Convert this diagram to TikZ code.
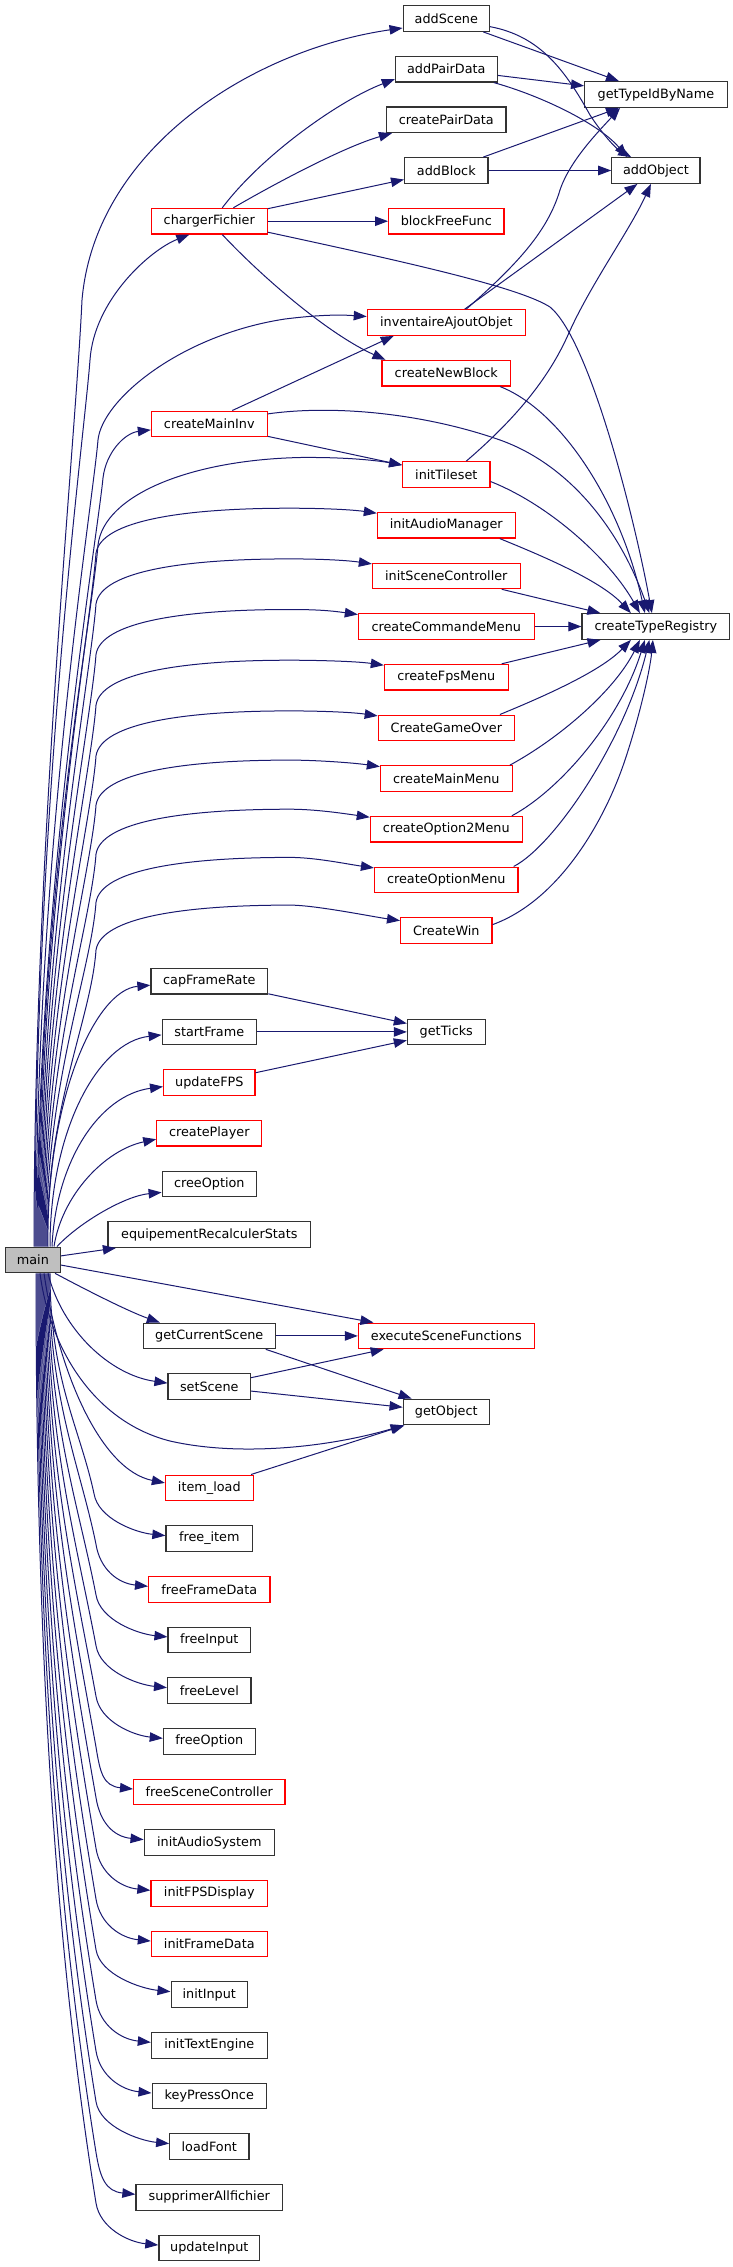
\documentclass[tikz,border=0pt]{standalone}
\usepackage{fontspec}
\newfontfamily\dejavufont{DejaVu Sans}
\usetikzlibrary{arrows.meta,calc}
\definecolor{edgeblue}{HTML}{191970}
\definecolor{maingray}{HTML}{BFBFBF}
\tikzset{
  box/.style={draw=black!80, fill=white, line width=1.2pt, minimum height=25.6pt, inner sep=0pt,
    font=\dejavufont\fontsize{12.8}{15}\selectfont},
  rbox/.style={box, draw=red},
  e/.style={draw=edgeblue, line width=1pt, -{Triangle[length=13pt,width=9.5pt]}},
}
% main -> rank-2 node above main: #1 node, #2 y, #3 start x, #4 apex dy, #5 tip dy
\newcommand\mainToTwo[5]{%
  \draw[e] ($(main.north)+({#3-32.9},0)$) .. controls (#3,{1247-0.45*(1247-#2)}) and (91,{#2+(#4)+115}) .. (96,{#2+(#4)+45})
    .. controls (101,{#2+(#4)+12}) and (185,{#2+(#4)}) .. (290,{#2+(#4)})
    .. controls (315,{#2+(#4)}) and ($(#1.west)+(-28,{#5-4})$) .. ($(#1.west)+(0,#5)$);}
% main -> rank-1 node below main: #1 node, #2 y, #3 start x, #4 bend x
\newcommand\mainToOneDown[4]{%
  \draw[e] ($(main.south)+({#3-32.9},0)$) .. controls (#3,{1273+0.4*(#2-1273)}) and ({#4-5-0.035*(#2-1273)},{#2-45-0.25*(#2-1273)}) .. (#4,{#2-45})
    .. controls ({#4+4},{#2-20}) and ($(#1.west)+(-30,-6)$) .. ($(#1.west)+(0,-3)$);}
\begin{document}
\begin{tikzpicture}[x=1pt,y=-1pt]
\useasboundingbox (0,0) rectangle (732,2267);
\fill[white] (0,0) rectangle (732,2267);

% rank 0
\node[box, fill=maingray, minimum width=55.3pt] (main) at (32.9,1259.9) {main};

% rank 1
\node[rbox, minimum width=115.8pt] (chargerFichier) at (209.3,221.2) {chargerFichier};
\node[rbox, minimum width=115.8pt] (createMainInv) at (209.3,423.9) {createMainInv};
\node[box, minimum width=116.7pt] (capFrameRate) at (209.3,981.2) {capFrameRate};
\node[box, minimum width=94.2pt] (startFrame) at (209.3,1031.9) {startFrame};
\node[rbox, minimum width=91.4pt] (updateFPS) at (209.3,1082.6) {updateFPS};
\node[rbox, minimum width=105pt] (createPlayer) at (209.3,1133.2) {createPlayer};
\node[box, minimum width=94.2pt] (creeOption) at (209.3,1183.9) {creeOption};
\node[box, minimum width=202.5pt] (equip) at (209.3,1234.6) {equipementRecalculerStats};
\node[box, minimum width=131.7pt] (getCurrentScene) at (209.3,1335.9) {getCurrentScene};
\node[box, minimum width=82.5pt] (setScene) at (209.3,1386.6) {setScene};
\node[rbox, minimum width=87.7pt] (itemload) at (209.3,1487.9) {item\_load};
\node[box, minimum width=86.7pt] (freeitem) at (209.3,1538.6) {free\_item};
\node[rbox, minimum width=121.4pt] (freeFrameData) at (209.3,1589.3) {freeFrameData};
\node[box, minimum width=82.5pt] (freeInput) at (209.3,1639.9) {freeInput};
\node[box, minimum width=83.4pt] (freeLevel) at (209.3,1690.6) {freeLevel};
\node[box, minimum width=91.9pt] (freeOption) at (209.3,1741.3) {freeOption};
\node[rbox, minimum width=151.4pt] (freeSceneController) at (209.3,1792) {freeSceneController};
\node[box, minimum width=130.3pt] (initAudioSystem) at (209.3,1842.6) {initAudioSystem};
\node[rbox, minimum width=116.7pt] (initFPSDisplay) at (209.3,1893.3) {initFPSDisplay};
\node[rbox, minimum width=115.8pt] (initFrameData) at (209.3,1944) {initFrameData};
\node[box, minimum width=76.4pt] (initInput) at (209.3,1994.6) {initInput};
\node[box, minimum width=115.8pt] (initTextEngine) at (209.3,2045.3) {initTextEngine};
\node[box, minimum width=114.4pt] (keyPressOnce) at (209.3,2096) {keyPressOnce};
\node[box, minimum width=79.2pt] (loadFont) at (209.3,2146.6) {loadFont};
\node[box, minimum width=146.7pt] (supprimerAllfichier) at (209.3,2197.3) {supprimerAllfichier};
\node[box, minimum width=100.8pt] (updateInput) at (209.3,2248) {updateInput};

% rank 2
\node[box, minimum width=86.3pt] (addScene) at (446.3,18.5) {addScene};
\node[box, minimum width=101.8pt] (addPairData) at (446.3,69.2) {addPairData};
\node[box, minimum width=119.5pt] (createPairData) at (446.3,119.8) {createPairData};
\node[box, minimum width=83.4pt] (addBlock) at (446.3,170.5) {addBlock};
\node[rbox, minimum width=115.3pt] (blockFreeFunc) at (446.3,221.2) {blockFreeFunc};
\node[rbox, minimum width=158pt] (inventaireAjoutObjet) at (446.3,322.5) {inventaireAjoutObjet};
\node[rbox, minimum width=128.5pt] (createNewBlock) at (446.3,373.2) {createNewBlock};
\node[rbox, minimum width=87.2pt] (initTileset) at (446.3,474.5) {initTileset};
\node[rbox, minimum width=137.8pt] (initAudioManager) at (446.3,525.2) {initAudioManager};
\node[rbox, minimum width=147.7pt] (initSceneController) at (446.3,575.9) {initSceneController};
\node[rbox, minimum width=175.8pt] (createCommandeMenu) at (446.3,626.5) {createCommandeMenu};
\node[rbox, minimum width=123.8pt] (createFpsMenu) at (446.3,677.2) {createFpsMenu};
\node[rbox, minimum width=136pt] (CreateGameOver) at (446.3,727.9) {CreateGameOver};
\node[rbox, minimum width=131.7pt] (createMainMenu) at (446.3,778.6) {createMainMenu};
\node[rbox, minimum width=151.9pt] (createOption2Menu) at (446.3,829.2) {createOption2Menu};
\node[rbox, minimum width=143.5pt] (createOptionMenu) at (446.3,879.9) {createOptionMenu};
\node[rbox, minimum width=91.4pt] (CreateWin) at (446.3,930.6) {CreateWin};
\node[box, minimum width=77.8pt] (getTicks) at (446.3,1031.9) {getTicks};
\node[rbox, minimum width=175.8pt] (executeSceneFunctions) at (446.3,1335.9) {executeSceneFunctions};
\node[box, minimum width=86.3pt] (getObject) at (446.3,1411.9) {getObject};

% rank 3
\node[box, minimum width=142.5pt] (getTypeIdByName) at (655.9,94.5) {getTypeIdByName};
\node[box, minimum width=88.2pt] (addObject) at (655.9,170.5) {addObject};
\node[box, minimum width=147.7pt] (createTypeRegistry) at (655.9,626.5) {createTypeRegistry};

% ---------- edges from main, upward ----------
\draw[e] ($(main.north)+(1.1,0)$) .. controls (34,850) and (75,450) .. (82,300) .. controls (95,150) and (250,50) .. ($(addScene.west)+(0,9.5)$);
\draw[e] ($(main.north)+(2.1,0)$) .. controls (35,800) and (84,440) .. (90,360) .. controls (94,300) and (150,250) .. ($(chargerFichier.south west)+(38.5,0)$);
\draw[e] ($(main.north)+(3.1,0)$) .. controls (36,850) and (92,510) .. (98,440) .. controls (102,400) and (180,335) .. (285,319) .. controls (325,314) and (345,315) .. ($(inventaireAjoutObjet.west)+(0,-6)$);
\draw[e] ($(main.north)+(4.1,0)$) .. controls (37,900) and (97,540) .. (103,478) .. controls (106,452) and (125,433) .. ($(createMainInv.west)+(0,6)$);
\draw[e] ($(main.north)+(5.1,0)$) .. controls (38,900) and (92,620) .. (98,545) .. controls (104,495) and (190,460) .. (300,457.5) .. controls (350,457) and (380,461) .. ($(initTileset.west)+(0,-9.5)$);
\mainToTwo{initAudioManager}{525.2}{39}{-17}{-12}
\mainToTwo{initSceneController}{575.9}{40}{-17}{-12}
\mainToTwo{createCommandeMenu}{626.5}{41}{-17}{-12}
\mainToTwo{createFpsMenu}{677.2}{42}{-17}{-12}
\mainToTwo{CreateGameOver}{727.9}{43}{-17}{-12}
\mainToTwo{createMainMenu}{778.6}{44}{-18.5}{-12}
\mainToTwo{createOption2Menu}{829.2}{45}{-20}{-12}
\mainToTwo{createOptionMenu}{879.9}{46}{-22.5}{-12}
\mainToTwo{CreateWin}{930.6}{47}{-25.5}{-10}
\draw[e] ($(main.north)+(15.1,0)$) .. controls (46,1100) and (95,990) .. ($(capFrameRate.west)+(0,4)$);
\draw[e] ($(main.north)+(17.1,0)$) .. controls (50,1130) and (98,1042) .. ($(startFrame.west)+(0,3)$);
\draw[e] ($(main.north)+(19.1,0)$) .. controls (56,1160) and (100,1095) .. ($(updateFPS.west)+(0,4)$);
\draw[e] ($(main.north)+(21.1,0)$) .. controls (62,1195) and (105,1150) .. ($(createPlayer.west)+(0,6)$);
\draw[e] ($(main.north)+(24.1,0)$) .. controls (80,1222) and (125,1196) .. ($(creeOption.west)+(0,8.5)$);
\draw[e] (main) -- (equip);
\draw[e] (main) -- (executeSceneFunctions);

% ---------- edges from main, downward ----------
\draw[e] ($(main.south)+(22.1,0)$) .. controls (90,1292) and (130,1312) .. ($(getCurrentScene.north west)+(17,0)$);
\draw[e] ($(main.south)+(15.1,0)$) .. controls (62,1330) and (110,1375) .. ($(setScene.west)+(0,-3.5)$);
\draw[e] ($(main.south)+(7.1,0)$) .. controls (50,1350) and (95,1422) .. (170,1441) .. controls (240,1457) and (330,1447) .. ($(getObject.south west)+(1,0)$);
\draw[e] ($(main.south)+(11.1,0)$) .. controls (58,1370) and (100,1470) .. ($(itemload.west)+(0,-5)$);
\mainToOneDown{freeitem}{1538.6}{50}{94}
\mainToOneDown{freeFrameData}{1589.3}{49}{96}
\mainToOneDown{freeInput}{1639.9}{48}{96}
\mainToOneDown{freeLevel}{1690.6}{47}{96}
\mainToOneDown{freeOption}{1741.3}{46}{96}
\mainToOneDown{freeSceneController}{1792}{45}{96}
\mainToOneDown{initAudioSystem}{1842.6}{44}{96}
\mainToOneDown{initFPSDisplay}{1893.3}{43}{96}
\mainToOneDown{initFrameData}{1944}{42}{96}
\mainToOneDown{initInput}{1994.6}{41}{96}
\mainToOneDown{initTextEngine}{2045.3}{40}{96}
\mainToOneDown{keyPressOnce}{2096}{39}{96}
\mainToOneDown{loadFont}{2146.6}{38}{96}
\mainToOneDown{supprimerAllfichier}{2197.3}{37}{96}
\mainToOneDown{updateInput}{2248}{36}{96}

% ---------- chargerFichier ----------
\draw[e] ($(chargerFichier.north)+(13,0)$) .. controls (262,155) and (340,100) .. ($(addPairData.west)+(0,10)$);
\draw[e] ($(chargerFichier.north)+(24,0)$) .. controls (290,175) and (350,145) .. ($(createPairData.south west)+(6,0)$);
\draw[e] (chargerFichier) -- (addBlock);
\draw[e] (chargerFichier) -- (blockFreeFunc);
\draw[e] ($(chargerFichier.south)+(13,0)$) .. controls (265,280) and (330,335) .. ($(createNewBlock.north west)+(4,0)$);
\draw[e] ($(chargerFichier.east)+(0,11)$) .. controls (420,265) and (520,288) .. (550,307) .. controls (590,340) and (635,520) .. ($(createTypeRegistry.north)+(-4,0)$);

% ---------- createMainInv ----------
\draw[e] ($(createMainInv.north)+(23,0)$) -- ($(inventaireAjoutObjet.south west)+(27,0)$);
\draw[e] (createMainInv) -- (initTileset);
\draw[e] ($(createMainInv.east)+(0,-10)$) .. controls (330,405) and (420,412) .. (500,440) .. controls (570,465) and (620,530) .. ($(createTypeRegistry.north)+(-6.5,0)$);

% ---------- rank 2 -> rank 3 ----------
\draw[e] (addScene) -- (getTypeIdByName);
\draw[e] (addScene) .. controls (540,36) and (565,70) .. (590,115) .. controls (605,138) and (618,150) .. ($(addObject.north west)+(20,0)$);
\draw[e] (addPairData) -- (getTypeIdByName);
\draw[e] (addPairData) .. controls (545,97) and (600,125) .. ($(addObject.north west)+(16,0)$);
\draw[e] (addBlock) -- (getTypeIdByName);
\draw[e] (addBlock) -- (addObject);
\draw[e] ($(inventaireAjoutObjet.north)+(20,0)$) .. controls (520,262) and (548,230) .. (560,190) .. controls (570,160) and (600,130) .. ($(getTypeIdByName.south west)+(36,0)$);
\draw[e] (inventaireAjoutObjet) -- (addObject);
\draw[e] ($(initTileset.north)+(20,0)$) .. controls (520,415) and (550,375) .. (568,335) .. controls (590,285) and (630,230) .. ($(addObject.south)+(-5,0)$);

\draw[e] ($(createNewBlock.south east)+(-11,0)$) .. controls (560,410) and (620,500) .. ($(createTypeRegistry.north)+(-11,0)$);
\draw[e] ($(initTileset.east)+(0,7)$) .. controls (550,505) and (610,560) .. ($(createTypeRegistry.north)+(-16,0)$);
\draw[e] ($(initAudioManager.south east)+(-16,0)$) .. controls (540,555) and (600,580) .. ($(createTypeRegistry.north)+(-25,0)$);
\draw[e] (initSceneController) -- (createTypeRegistry);
\draw[e] (createCommandeMenu) -- (createTypeRegistry);
\draw[e] (createFpsMenu) -- (createTypeRegistry);
\draw[e] ($(CreateGameOver.north east)+(-15,0)$) .. controls (540,698) and (600,672) .. ($(createTypeRegistry.south)+(-25,0)$);
\draw[e] ($(createMainMenu.north east)+(-3,0)$) .. controls (560,738) and (615,690) .. ($(createTypeRegistry.south)+(-16,0)$);
\draw[e] ($(createOption2Menu.north east)+(-11,0)$) .. controls (560,790) and (620,720) .. ($(createTypeRegistry.south)+(-11,0)$);
\draw[e] ($(createOptionMenu.north east)+(-5,0)$) .. controls (555,845) and (625,740) .. ($(createTypeRegistry.south)+(-6.5,0)$);
\draw[e] ($(CreateWin.east)+(0,-6)$) .. controls (560,900) and (605,820) .. (625,760) .. controls (640,715) and (650,670) .. ($(createTypeRegistry.south)+(-3,0)$);

% ---------- getTicks, scenes, objects ----------
\draw[e] (capFrameRate) -- (getTicks);
\draw[e] (startFrame) -- (getTicks);
\draw[e] (updateFPS) -- (getTicks);
\draw[e] (getCurrentScene) -- (executeSceneFunctions);
\draw[e] ($(getCurrentScene.south east)+(-10,0)$) -- ($(getObject.north west)+(9,0)$);
\draw[e] (setScene) -- (executeSceneFunctions);
\draw[e] (setScene) -- (getObject);
\draw[e] (itemload) -- (getObject);
\end{tikzpicture}
\end{document}
